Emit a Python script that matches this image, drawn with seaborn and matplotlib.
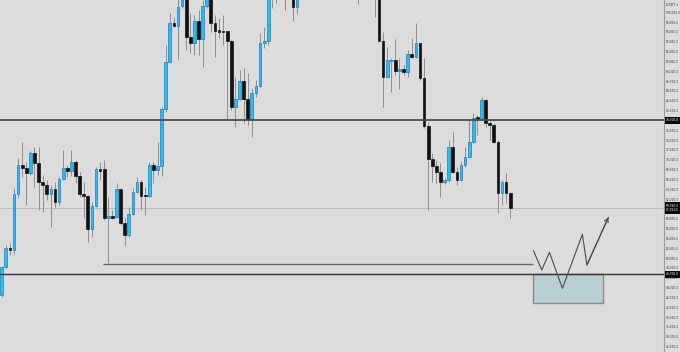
import matplotlib
matplotlib.use("Agg")
import matplotlib.pyplot as plt
import matplotlib.transforms as mtransforms
from matplotlib.patches import Rectangle
import numpy as np
import pandas as pd
import seaborn as sns

# ---------------- data (USDT) ----------------
opens = [
    42500, 48190, 52120, 51650, 63040, 68940, 68330, 67310, 71380, 69350,
    65480, 64870, 63040, 64060, 61410, 66090, 68330, 67720, 69550, 66700,
    63040, 62630, 55920, 60600, 68130, 68130, 58160, 58570, 58360, 64060,
    57140, 54700, 58970, 63450, 65480, 62840, 62630, 68940, 67920, 68740,
    80330, 89890, 97820, 97210, 101280, 104940, 94970, 93750, 98230, 94570,
    101280, 104530, 97820, 96400, 96190, 96190, 94160, 80740, 82360, 86020,
    82360, 78300, 83580, 85010, 93750, 94160, 103520, 105750, 103720, 105350,
    103310, 104530, 101080, 103720, 105750, 104530, 106970, 105350, 108200, 109820,
    108200, 106570, 108600, 106160, 104940, 107380, 105750, 104130, 103310, 105350,
    103720, 104940, 103310, 94160, 86840, 90090, 90300, 88060, 88470, 87860,
    91520, 90910, 93750, 86630, 76870, 70160, 68740, 67510, 65480, 65890,
    72600, 67510, 65890, 68940, 70570, 73620, 78700, 78500, 82160, 77480,
    77080, 73620, 63240, 65480, 63240]

highs = [
    48400, 52670, 53070, 64260, 70360, 73620, 69550, 71790, 72600, 72600,
    66910, 65890, 64870, 65480, 66500, 71990, 68940, 71990, 69960, 67510,
    65480, 62840, 61410, 68530, 69550, 69960, 62430, 59790, 65280, 64260,
    58160, 60400, 64260, 66500, 65890, 64460, 69550, 69550, 73620, 80740,
    93350, 99860, 99040, 103520, 105550, 105550, 99860, 99450, 100470, 102500,
    105350, 105350, 99450, 98840, 99450, 96190, 94360, 86840, 88260, 88670,
    87650, 84600, 86230, 95790, 97010, 104130, 106160, 106570, 106160, 105750,
    105550, 104940, 104530, 106160, 106970, 107790, 108200, 109010, 110640, 111040,
    109420, 109820, 109420, 107380, 108200, 108600, 106570, 105350, 106160, 106160,
    105750, 105750, 103720, 95990, 92940, 90700, 94570, 90700, 89280, 92330,
    94770, 97820, 93750, 90700, 77690, 71380, 69960, 69350, 66290, 74020,
    75850, 68530, 69550, 72600, 78090, 79520, 79110, 82770, 82360, 78090,
    77480, 74020, 65890, 67310, 63450]

lows = [
    42090, 47990, 50630, 50840, 62430, 66500, 60800, 66910, 64460, 59790,
    59380, 61820, 56330, 60190, 60800, 65890, 66500, 66700, 65280, 62430,
    58160, 53280, 54290, 60400, 65890, 57750, 49010, 57960, 58160, 56740,
    52460, 54290, 58770, 63240, 59790, 58770, 62430, 65280, 66910, 66700,
    79720, 89690, 97010, 90300, 100870, 92330, 91720, 91310, 91310, 88870,
    100870, 95990, 90910, 94770, 93350, 78090, 80130, 76670, 82160, 77480,
    77080, 74630, 82770, 84800, 92740, 93350, 100870, 101890, 102910, 100470,
    102700, 98230, 99650, 102700, 103110, 103520, 103310, 104130, 106570, 106160,
    104130, 104530, 103720, 103310, 103720, 103520, 102910, 101690, 102700, 102910,
    102910, 99040, 94160, 80740, 86630, 83790, 87250, 84400, 87250, 86840,
    90700, 90700, 86230, 76460, 59790, 65480, 65280, 62430, 65070, 65480,
    67310, 64870, 65690, 68530, 70360, 73410, 75040, 78090, 76670, 74020,
    73410, 59180, 60800, 61210, 58160]

closes = [
    48250, 52060, 51650, 63040, 68940, 68330, 67310, 71380, 69350, 65480,
    64870, 63040, 64060, 61410, 66090, 68330, 67720, 69550, 66700, 63040,
    62630, 55920, 60600, 68130, 67720, 58160, 58570, 58160, 64060, 57140,
    54700, 58970, 63450, 65480, 62630, 62630, 68940, 67920, 68740, 80330,
    89890, 97820, 97210, 101080, 104940, 94970, 93750, 98230, 94570, 101280,
    104530, 97820, 96190, 95990, 95990, 94160, 80740, 82360, 86020, 82360,
    78300, 83580, 85010, 93750, 94160, 103520, 105750, 103720, 105350, 103310,
    104940, 101080, 103720, 105750, 104530, 106970, 105350, 108200, 109820, 108200,
    106570, 108600, 106160, 104940, 107380, 105750, 104130, 103310, 105350, 103720,
    104940, 103310, 94160, 86840, 90300, 90300, 88060, 88470, 87860, 91520,
    90910, 93750, 86630, 76870, 70160, 68740, 67510, 65480, 65890, 72600,
    67510, 65890, 68940, 70570, 73620, 78500, 78300, 82160, 77480, 77080,
    73620, 63240, 65480, 63240, 60190]

resistance_level = 78000
support_level = 46700
sweep_level = 48900
sweep_start, sweep_end = 24.8, 129.6
zone_x = [129.6, 146.7]
zone_y = [40870, 46700]
path_x = [129.66, 131.7, 133.56, 136.73, 141.6, 142.7, 147.95]
path_y = [51510, 47580, 51180, 43860, 54840, 48600, 58300]
axis_ticks = list(range(32000, 100001, 2000))
hidden_ticks = [78000, 60000]
last_price = closes[-1]
price_tag = ["78,000.0", "60,190.0\n05:59:50", "46,700.0"]

# ---------------- style ----------------
BG = "#dcdcdc"
UP_FACE, UP_EDGE = "#22c3e6", "#1f78d1"
DN_FACE, DN_EDGE = "#111111", "#111111"
WICK = "#8e8e8e"

sns.set_theme(style="white", rc={"axes.facecolor": BG, "figure.facecolor": BG})
plt.rcParams["font.family"] = ["DejaVu Sans"]

df = pd.DataFrame({"o": opens, "h": highs, "l": lows, "c": closes})
df["i"] = np.arange(len(df))
df["up"] = df["c"] >= df["o"]
df["bottom"] = df[["o", "c"]].min(axis=1)
df["height"] = (df["c"] - df["o"]).abs().clip(lower=180)

fig = plt.figure(figsize=(6.8, 3.52), dpi=100)
ax = fig.add_axes([0, 0, 664 / 680, 1])
ax.set_xlim(-0.41, 161.5)
ax.set_ylim(30900, 102500)

# wicks
ax.vlines(df["i"], df["l"], df["h"], color=WICK, lw=0.7, zorder=2)
# bodies
up = df[df["up"]]
dn = df[~df["up"]]
ax.bar(up["i"], up["height"], bottom=up["bottom"], width=0.66,
       color=UP_FACE, edgecolor=UP_EDGE, linewidth=0.5, zorder=3)
ax.bar(dn["i"], dn["height"], bottom=dn["bottom"], width=0.66,
       color=DN_FACE, edgecolor=DN_EDGE, linewidth=0.5, zorder=3)

# levels
ax.axhline(resistance_level, color="#4a4a4a", lw=1.3, zorder=4)
ax.axhline(support_level, color="#333333", lw=1.0, zorder=4)
ax.axhline(last_price, color="#b5b5b5", lw=0.6, zorder=1)
ax.hlines(sweep_level, sweep_start, sweep_end, color="#666666", lw=1.0, zorder=4)

# demand zone
ax.add_patch(Rectangle((zone_x[0], zone_y[0]), zone_x[1] - zone_x[0],
                       zone_y[1] - zone_y[0], facecolor="#b6d0d4",
                       edgecolor="#8a8a8a", lw=1.0, zorder=2))

# projected path
sns.lineplot(x=path_x, y=path_y, sort=False, estimator=None, color="#4a4a4a",
             lw=0.8, ax=ax, zorder=5)
ax.annotate("", xy=(path_x[-1], path_y[-1]), xytext=(path_x[-2], path_y[-2]),
            arrowprops=dict(arrowstyle="->", color="#4a4a4a", lw=0.8,
                            mutation_scale=7, shrinkA=0, shrinkB=0), zorder=5)

# right price axis
ax.yaxis.tick_right()
ax.set_yticks(axis_ticks)
ax.set_yticklabels(["" if v in hidden_ticks else f"{v:,.1f}" for v in axis_ticks],
                   fontsize=2.1, color="#333333")
ax.tick_params(axis="y", length=0, pad=1.2)
ax.set_xticks([])
for s in ["left", "top", "bottom"]:
    ax.spines[s].set_visible(False)
ax.spines["right"].set_color("#9a9a9a")
ax.spines["right"].set_linewidth(0.8)

trans = mtransforms.blended_transform_factory(ax.transAxes, ax.transData)
for lvl, txt in zip([resistance_level, last_price, support_level], price_tag):
    ax.text(1.003, lvl, txt, transform=trans, fontsize=2.1, color="white",
            ha="left", va="center", clip_on=False, zorder=10, linespacing=1.3,
            bbox=dict(boxstyle="square,pad=0.45", fc="#0a0a0a", ec="none"))

fig.text(0.980, 0.992, "USDT ▾", fontsize=2.4, color="#333333", ha="left", va="top")

fig.savefig("out.png", dpi=100, facecolor=BG)
